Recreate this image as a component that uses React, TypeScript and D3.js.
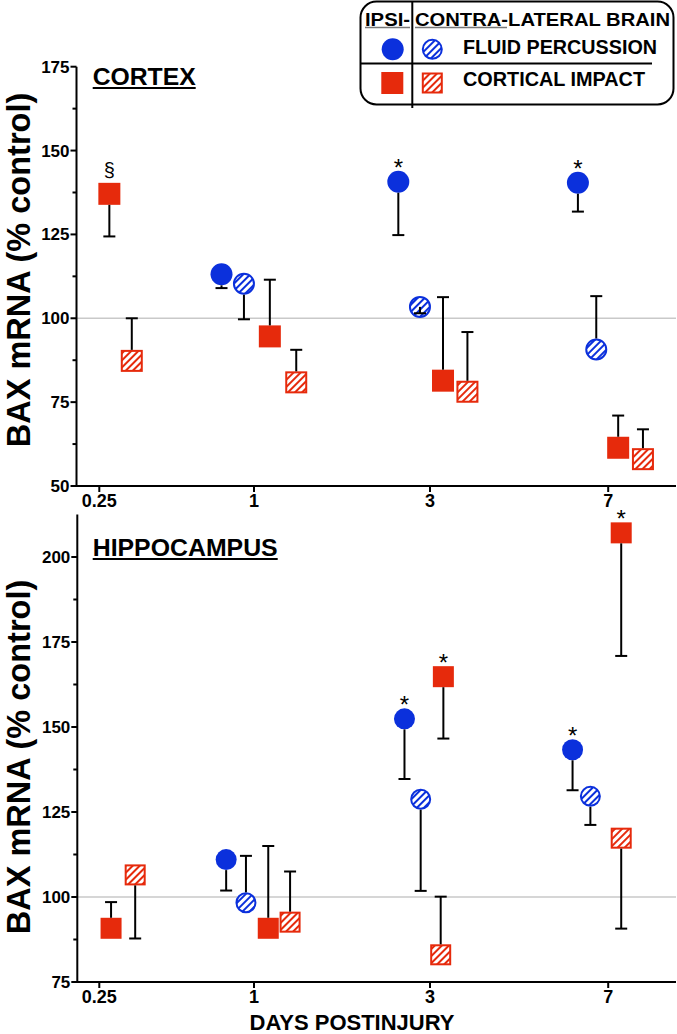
import React from 'react';
import * as d3 from 'd3';

// ---------- DATA ----------
const dayLabels = ['0.25', '1', '3', '7'];
const dayIndex = [0, 1, 2, 3];

// x values are in "day slot" units (slot index + dodge), y = mean % control, err = whisker end value
// CORTEX
const ctxFpIpsiX = [0.79, 1.82, 2.83];
const ctxFpIpsiY = [113.1, 140.7, 140.4];
const ctxFpIpsiErr = [109.0, 124.8, 131.8];
const ctxFpIpsiSig = ['', '*', '*'];

const ctxFpContraX = [0.935, 1.943, 2.933];
const ctxFpContraY = [110.3, 103.4, 90.7];
const ctxFpContraErr = [99.7, 101.5, 106.6];
const ctxFpContraSig = ['', '', ''];

const ctxCciIpsiX = [0.065, 1.09, 2.073, 3.056];
const ctxCciIpsiY = [137.1, 94.6, 81.4, 61.4];
const ctxCciIpsiErr = [124.4, 111.5, 106.3, 71.0];
const ctxCciIpsiSig = ['§', '', '', ''];

const ctxCciContraX = [0.21, 1.24, 2.21, 3.195];
const ctxCciContraY = [87.3, 80.9, 78.1, 58.0];
const ctxCciContraErr = [100.0, 90.6, 95.9, 66.9];
const ctxCciContraSig = ['', '', '', ''];

// HIPPOCAMPUS
const hipFpIpsiX = [0.82, 1.855, 2.8];
const hipFpIpsiY = [111.0, 152.4, 143.3];
const hipFpIpsiErr = [101.9, 134.7, 131.4];
const hipFpIpsiSig = ['', '*', '*'];

const hipFpContraX = [0.948, 1.947, 2.9];
const hipFpContraY = [98.3, 128.75, 129.6];
const hipFpContraErr = [112.1, 101.8, 121.2];
const hipFpContraSig = ['', '', ''];

const hipCciIpsiX = [0.076, 1.081, 2.075, 3.073];
const hipCciIpsiY = [90.8, 90.8, 164.8, 207.1];
const hipCciIpsiErr = [98.5, 115.0, 146.6, 170.9];
const hipCciIpsiSig = ['', '', '*', '*'];

const hipCciContraX = [0.232, 1.205, 2.06, 3.073];
const hipCciContraY = [106.5, 92.6, 83.0, 117.3];
const hipCciContraErr = [87.8, 107.5, 100.1, 90.7];
const hipCciContraSig = ['', '', '', ''];

const ctxYTicks = [50, 75, 100, 125, 150, 175];
const ctxYMinor = [62.5, 87.5, 112.5, 137.5, 162.5];
const hipYTicks = [75, 100, 125, 150, 175, 200];
const hipYMinor = [87.5, 112.5, 137.5, 162.5, 187.5];

const legendHeader = ['IPSI-', 'CONTRA-LATERAL BRAIN'];
const legendRows = ['FLUID PERCUSSION', 'CORTICAL IMPACT'];

// ---------- STYLE ----------
const BLUE = '#0b30dc';
const RED = '#e62a0c';
const FONT = "'Liberation Sans', Arial, Helvetica, sans-serif";

type Kind = 'circle' | 'square';
interface Series { x: number[]; y: number[]; err: number[]; sig: string[]; kind: Kind; filled: boolean; color: string; }

const mk = (x: number[], y: number[], err: number[], sig: string[], kind: Kind, filled: boolean, color: string): Series =>
  ({ x, y, err, sig, kind, filled, color });

const cortexSeries: Series[] = [
  mk(ctxFpIpsiX, ctxFpIpsiY, ctxFpIpsiErr, ctxFpIpsiSig, 'circle', true, BLUE),
  mk(ctxFpContraX, ctxFpContraY, ctxFpContraErr, ctxFpContraSig, 'circle', false, BLUE),
  mk(ctxCciIpsiX, ctxCciIpsiY, ctxCciIpsiErr, ctxCciIpsiSig, 'square', true, RED),
  mk(ctxCciContraX, ctxCciContraY, ctxCciContraErr, ctxCciContraSig, 'square', false, RED),
];
const hipSeries: Series[] = [
  mk(hipFpIpsiX, hipFpIpsiY, hipFpIpsiErr, hipFpIpsiSig, 'circle', true, BLUE),
  mk(hipFpContraX, hipFpContraY, hipFpContraErr, hipFpContraSig, 'circle', false, BLUE),
  mk(hipCciIpsiX, hipCciIpsiY, hipCciIpsiErr, hipCciIpsiSig, 'square', true, RED),
  mk(hipCciContraX, hipCciContraY, hipCciContraErr, hipCciContraSig, 'square', false, RED),
];

const xRange = [99.3, 254, 430, 608.2];

function Marker({ kind, filled, color, cx, cy, size }: { kind: Kind; filled: boolean; color: string; cx: number; cy: number; size: number }) {
  const fill = filled ? color : `url(#hatch-${color === BLUE ? 'blue' : 'red'})`;
  if (kind === 'circle') {
    return filled
      ? <circle cx={cx} cy={cy} r={size / 2} fill={color} />
      : <circle cx={cx} cy={cy} r={size / 2 - 1} fill={fill} stroke={color} strokeWidth={2} />;
  }
  return filled
    ? <rect x={cx - size / 2} y={cy - size / 2} width={size} height={size} fill={color} />
    : <rect x={cx - size / 2 + 1} y={cy - size / 2 + 1} width={size - 2} height={size - 2} fill={fill} stroke={color} strokeWidth={2} />;
}

interface PanelProps {
  series: Series[];
  yDomain: [number, number];
  yRange: [number, number];
  yTicks: number[];
  yMinor: number[];
  axisX: number;
  title: string;
  titleLen: number;
  titleBaseline: number;
  labelCenter: number;
  markerSize: number;
  errWidth: number;
}

function Panel(p: PanelProps) {
  const x = d3.scaleLinear().domain(dayIndex).range(xRange);
  const y = d3.scaleLinear().domain(p.yDomain).range(p.yRange);
  const axisY = y(p.yDomain[0]);
  const topY = y(p.yDomain[1]);
  const half = p.markerSize / 2;
  return (
    <g>
      {/* reference line at 100% */}
      <line x1={p.axisX} x2={676} y1={y(100)} y2={y(100)} stroke="#c9c9c9" strokeWidth={1.6} />
      {/* y axis */}
      <line x1={p.axisX} x2={p.axisX} y1={topY} y2={axisY} stroke="#000" strokeWidth={2} />
      {p.yTicks.map(t => (
        <g key={'yt' + t}>
          <line x1={p.axisX - 6} x2={p.axisX} y1={y(t)} y2={y(t)} stroke="#000" strokeWidth={2} />
          <text x={p.axisX - 7} y={y(t) + 6} textAnchor="end" fontFamily={FONT} fontWeight="bold" fontSize={17}>{t}</text>
        </g>
      ))}
      {p.yMinor.map(t => (
        <line key={'ym' + t} x1={p.axisX - 4} x2={p.axisX} y1={y(t)} y2={y(t)} stroke="#000" strokeWidth={2} />
      ))}
      {/* x axis */}
      <line x1={p.axisX - 1} x2={676} y1={axisY} y2={axisY} stroke="#000" strokeWidth={2} />
      {dayIndex.map((d, i) => (
        <g key={'xt' + d}>
          <line x1={x(d)} x2={x(d)} y1={axisY} y2={axisY + 6} stroke="#000" strokeWidth={2} />
          <text x={x(d)} y={axisY + 21} textAnchor="middle" fontFamily={FONT} fontWeight="bold" fontSize={18}>{dayLabels[i]}</text>
        </g>
      ))}
      {/* y label */}
      <text transform={`translate(30,${p.labelCenter}) rotate(-90)`} textAnchor="middle" fontFamily={FONT} fontWeight="bold" fontSize={32.5}>BAX mRNA (% control)</text>
      {/* title */}
      <text x={92.7} y={p.titleBaseline} fontFamily={FONT} fontWeight="bold" fontSize={24} textLength={p.titleLen} lengthAdjust="spacingAndGlyphs">{p.title}</text>
      <line x1={92.7} x2={92.7 + p.titleLen} y1={p.titleBaseline + 3} y2={p.titleBaseline + 3} stroke="#000" strokeWidth={1.8} />
      {/* markers */}
      {p.series.map((s, si) => s.x.map((xv, i) => (
        <Marker key={`m${si}-${i}`} kind={s.kind} filled={s.filled} color={s.color} cx={x(xv)} cy={y(s.y[i])} size={p.markerSize} />
      )))}
      {/* error bars */}
      {p.series.map((s, si) => s.x.map((xv, i) => {
        const cx = x(xv);
        const cy = y(s.y[i]);
        const ey = y(s.err[i]);
        const dir = ey > cy ? 1 : -1;
        const start = Math.abs(ey - cy) > half ? cy + dir * half : cy;
        return (
          <g key={`e${si}-${i}`}>
            <line x1={cx} x2={cx} y1={start} y2={ey} stroke="#000" strokeWidth={2} />
            <line x1={cx - p.errWidth / 2} x2={cx + p.errWidth / 2} y1={ey} y2={ey} stroke="#000" strokeWidth={2} />
          </g>
        );
      }))}
      {/* significance marks */}
      {p.series.map((s, si) => s.x.map((xv, i) => s.sig[i] ? (
        <text key={`s${si}-${i}`} x={x(xv)} y={y(s.y[i]) + (s.sig[i] === '*' ? -6 : -17)} textAnchor="middle"
          fontFamily={FONT} fontSize={s.sig[i] === '*' ? 24 : 20}>{s.sig[i]}</text>
      ) : null))}
    </g>
  );
}

function Legend() {
  return (
    <g fontFamily={FONT} fontWeight="bold">
      <rect x={360.5} y={1.5} width={313} height={103} rx={16} ry={16} fill="#fff" stroke="#000" strokeWidth={2} />
      <line x1={412.3} x2={412.3} y1={1.5} y2={108} stroke="#000" strokeWidth={2} />
      <line x1={360.5} x2={652} y1={63.5} y2={63.5} stroke="#000" strokeWidth={2} />
      <text x={365} y={25.5} fontSize={18} textLength={45} lengthAdjust="spacingAndGlyphs">{legendHeader[0]}</text>
      <text x={415} y={25.5} fontSize={18} textLength={255} lengthAdjust="spacingAndGlyphs">{legendHeader[1]}</text>
      <line x1={365} x2={410} y1={27.5} y2={27.5} stroke="#777" strokeWidth={1.6} />
      <line x1={415} x2={507} y1={27.5} y2={27.5} stroke="#777" strokeWidth={1.6} />
      <Marker kind="circle" filled color={BLUE} cx={392.7} cy={49.3} size={22} />
      <Marker kind="circle" filled={false} color={BLUE} cx={432.3} cy={49.3} size={21} />
      <Marker kind="square" filled color={RED} cx={392.3} cy={83} size={22} />
      <Marker kind="square" filled={false} color={RED} cx={432.3} cy={83} size={21} />
      <text x={463} y={53.5} fontSize={20} textLength={194} lengthAdjust="spacingAndGlyphs">{legendRows[0]}</text>
      <text x={463} y={85.5} fontSize={20} textLength={182} lengthAdjust="spacingAndGlyphs">{legendRows[1]}</text>
    </g>
  );
}

export default function App() {
  return (
    <svg width={677} height={1034} style={{ position: 'absolute', left: 0, top: 0, background: '#fff' }}>
      <defs>
        <pattern id="hatch-red" patternUnits="userSpaceOnUse" width={5} height={5} patternTransform="rotate(45)">
          <rect width={5} height={5} fill="#fff" />
          <line x1={1} y1={0} x2={1} y2={5} stroke={RED} strokeWidth={2} />
        </pattern>
        <pattern id="hatch-blue" patternUnits="userSpaceOnUse" width={5} height={5} patternTransform="rotate(45)">
          <rect width={5} height={5} fill="#fff" />
          <line x1={1} y1={0} x2={1} y2={5} stroke={BLUE} strokeWidth={2} />
        </pattern>
      </defs>
      <rect width={677} height={1034} fill="#fff" />
      <Panel series={cortexSeries} yDomain={[50, 175]} yRange={[486, 66.7]} yTicks={ctxYTicks} yMinor={ctxYMinor}
        axisX={76.5} title="CORTEX" titleLen={103} titleBaseline={85} labelCenter={270} markerSize={22} errWidth={12} />
      <Panel series={hipSeries} yDomain={[75, 212.5]} yRange={[982, 514.5]} yTicks={hipYTicks} yMinor={hipYMinor}
        axisX={77.3} title="HIPPOCAMPUS" titleLen={185} titleBaseline={556} labelCenter={757} markerSize={21} errWidth={12} />
      <text x={352} y={1030} textAnchor="middle" fontFamily={FONT} fontWeight="bold" fontSize={22}>DAYS POSTINJURY</text>
      <Legend />
    </svg>
  );
}
